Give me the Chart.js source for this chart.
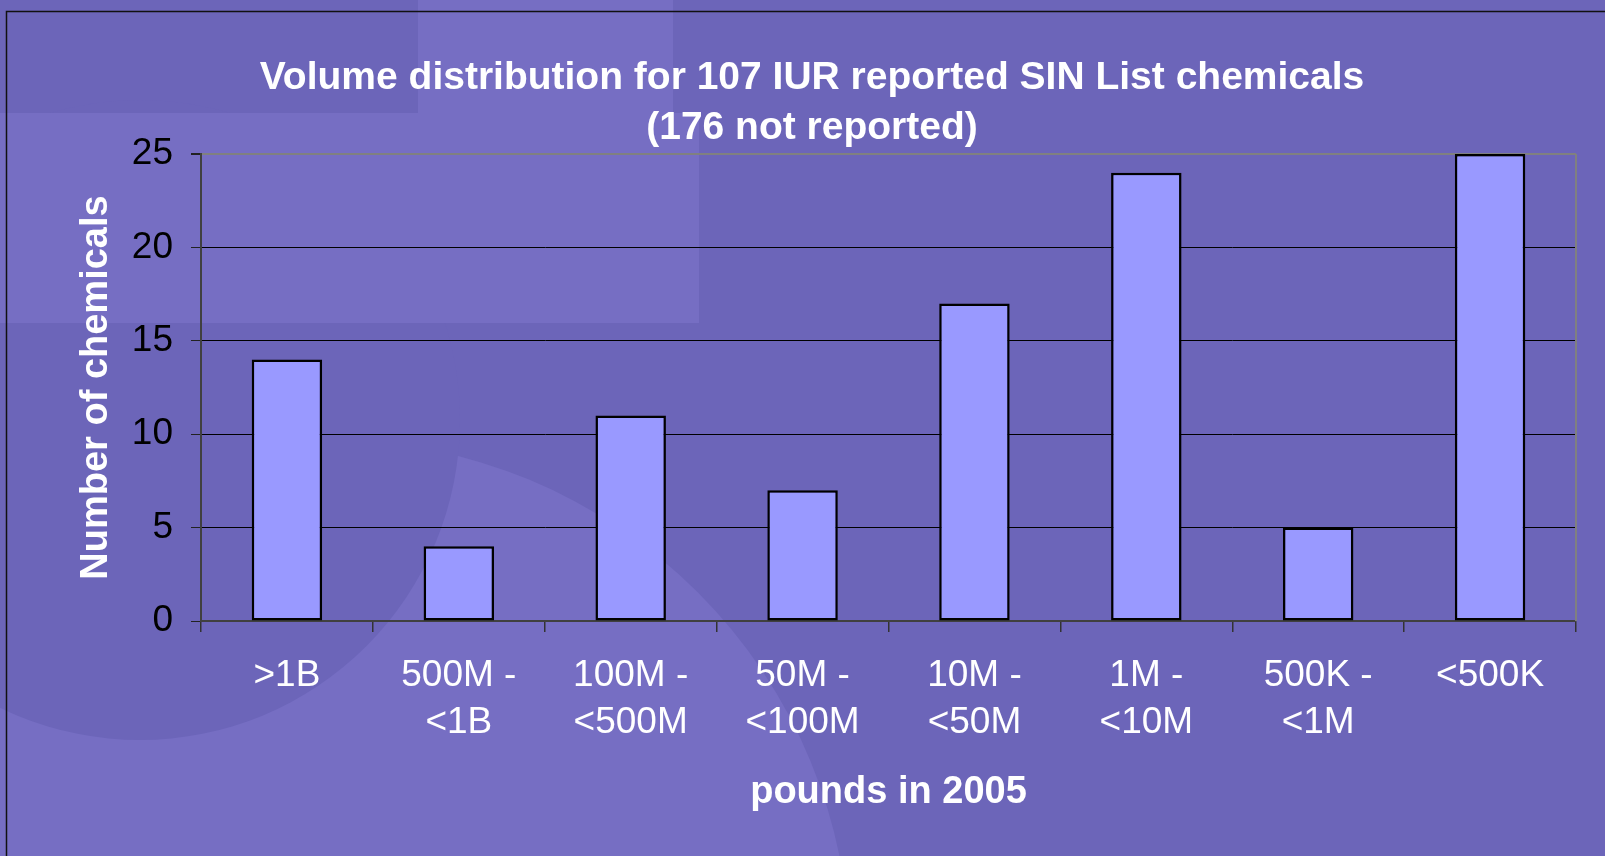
<!DOCTYPE html>
<html>
<head>
<meta charset="utf-8">
<title>Volume distribution for 107 IUR reported SIN List chemicals</title>
<script src="https://cdn.jsdelivr.net/npm/chart.js@4"></script>
<style>
  html, body { margin: 0; padding: 0; background: #6c65b9; }
  canvas { display: block; }
</style>
</head>
<body>
<canvas id="volumeChart" width="1605" height="856"></canvas>
<script>
// Chart data
const categories = [
    ['>1B'],
    ['500M -', '<1B'],
    ['100M -', '<500M'],
    ['50M -', '<100M'],
    ['10M -', '<50M'],
    ['1M -', '<10M'],
    ['500K -', '<1M'],
    ['<500K']
];
const chemicalCounts = [14, 4, 11, 7, 17, 24, 5, 25];
const yTickValues = [0, 5, 10, 15, 20, 25];

const titleLines = ['Volume distribution for 107 IUR reported SIN List chemicals', '(176 not reported)'];
const yTitle = 'Number of chemicals';
const xTitle = 'pounds in 2005';

Chart.defaults.font.family = "'Liberation Sans', Arial, sans-serif";

// Slide background and frame behind the chart
const slideBackdrop = {
    id: 'slideBackdrop',
    beforeDraw(chart) {
        const ctx = chart.ctx;
        const w = chart.width, h = chart.height;
        ctx.save();
        ctx.fillStyle = '#6c65b9';
        ctx.fillRect(0, 0, w, h);

        ctx.fillStyle = '#766ec3';
        ctx.beginPath();
        ctx.arc(330, 960, 520, 0, Math.PI * 2);
        ctx.fill();

        ctx.fillStyle = '#6c65b9';
        ctx.beginPath();
        ctx.arc(140, 420, 320, 0, Math.PI * 2);
        ctx.fill();

        ctx.fillStyle = '#766ec3';
        ctx.fillRect(418, 0, 255, 113);
        ctx.fillRect(0, 113, 699, 210);

        // frame lines
        ctx.strokeStyle = '#111';
        ctx.lineWidth = 1.5;
        ctx.beginPath();
        ctx.moveTo(6.5, h);
        ctx.lineTo(6.5, 11.5);
        ctx.lineTo(w, 11.5);
        ctx.stroke();
        ctx.restore();
    },
    beforeDatasetsDraw(chart) {
        const {ctx, chartArea} = chart;
        ctx.save();
        ctx.strokeStyle = '#808080';
        ctx.lineWidth = 2;
        ctx.beginPath();
        ctx.moveTo(chartArea.right, chartArea.top);
        ctx.lineTo(chartArea.right, chartArea.bottom);
        ctx.stroke();
        ctx.restore();
    }
};

const ctx = document.getElementById('volumeChart').getContext('2d');
new Chart(ctx, {
    type: 'bar',
    data: {
        labels: categories,
        datasets: [{
            label: yTitle,
            data: chemicalCounts,
            backgroundColor: '#9999ff',
            borderColor: '#000',
            borderWidth: 2.5,
            borderSkipped: false,
            barPercentage: 0.41,
            categoryPercentage: 1
        }]
    },
    options: {
        responsive: false,
        animation: false,
        devicePixelRatio: 1,
        layout: {
            padding: { left: 48, right: 29, top: 0, bottom: 0 }
        },
        plugins: {
            legend: { display: false },
            tooltip: { enabled: false },
            title: {
                display: true,
                text: titleLines,
                color: '#fff',
                font: { size: 39, weight: 'bold', lineHeight: 50 / 39 },
                padding: { top: 53, bottom: 1 }
            }
        },
        scales: {
            x: {
                afterFit(scale) { scale.height = 235; },
                grid: {
                    drawOnChartArea: false,
                    tickLength: 11,
                    tickColor: '#333',
                    lineWidth: 1.5
                },
                border: { color: '#404040', width: 2 },
                ticks: {
                    color: '#fff',
                    font: { size: 37, lineHeight: 47 / 37 },
                    padding: 20,
                    maxRotation: 0,
                    autoSkip: false
                },
                title: {
                    display: true,
                    text: xTitle,
                    color: '#fff',
                    font: { size: 38, weight: 'bold' },
                    padding: { top: 0, bottom: 41 }
                }
            },
            y: {
                min: 0,
                max: 25,
                afterFit(scale) { scale.width = 153; },
                afterBuildTicks(scale) {
                    scale.ticks = yTickValues.map(v => ({ value: v }));
                },
                grid: {
                    color: c => (c.tick && c.tick.value === 25) ? '#808080' : '#000',
                    lineWidth: c => (c.tick && c.tick.value === 25) ? 2 : 1,
                    tickLength: 10,
                    tickColor: '#222'
                },
                border: { color: '#404040', width: 2 },
                ticks: {
                    color: '#000',
                    font: { size: 37 },
                    padding: 18
                },
                title: {
                    display: true,
                    text: yTitle,
                    color: '#fff',
                    font: { size: 38, weight: 'bold' },
                    padding: { top: 26, bottom: 0 }
                }
            }
        }
    },
    plugins: [slideBackdrop]
});
</script>
</body>
</html>
